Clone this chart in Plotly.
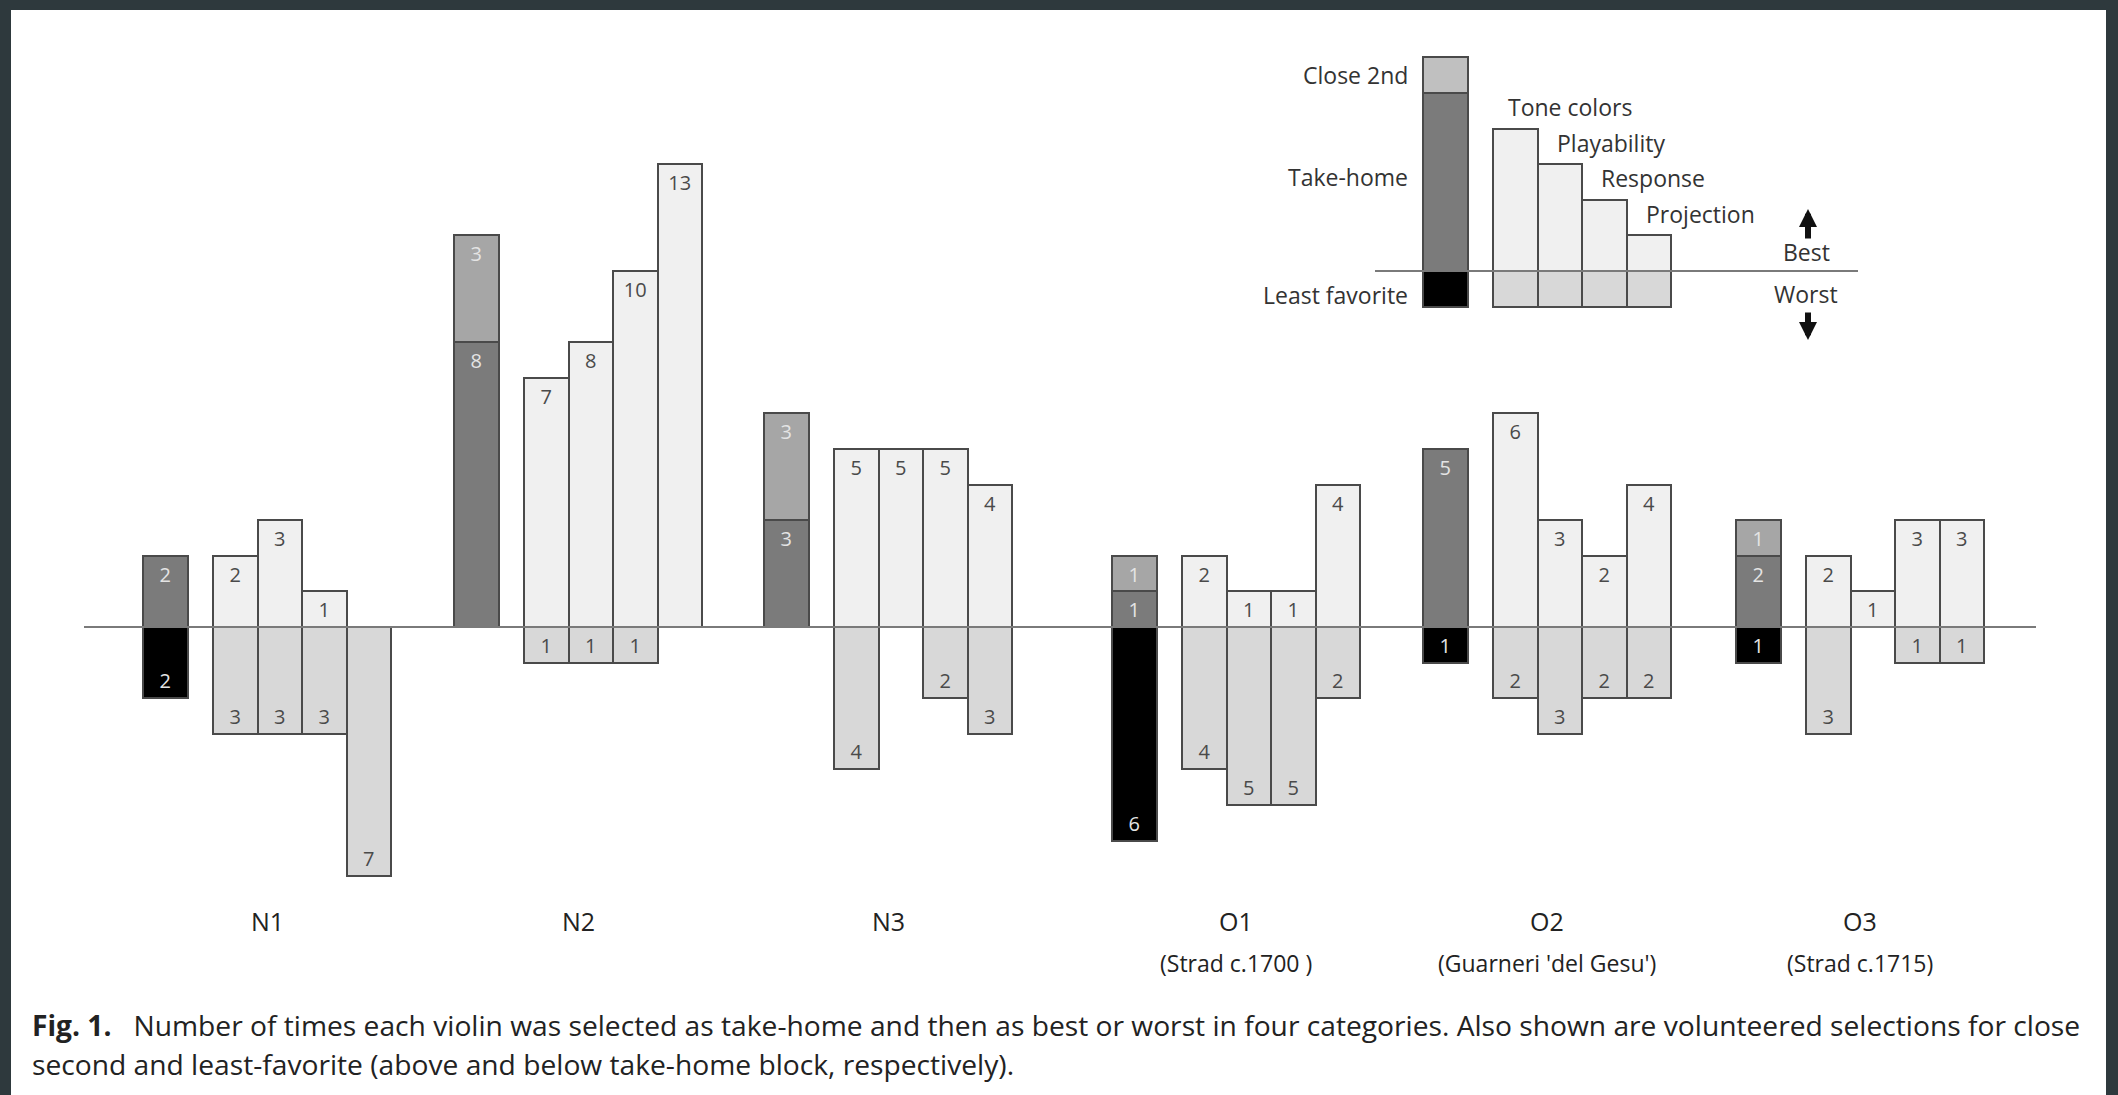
import plotly.graph_objects as go

# ---------------- data ----------------
violins = ["N1", "N2", "N3", "O1", "O2", "O3"]
subtitles = ["", "", "", "(Strad c.1700 )", "(Guarneri 'del Gesu')", "(Strad c.1715)"]
categories = ["Tone colors", "Playability", "Response", "Projection"]

take_home = [2, 8, 3, 1, 5, 2]
close_second = [0, 3, 3, 1, 0, 1]
least_favorite = [2, 0, 0, 6, 1, 1]

best_tone = [2, 7, 5, 2, 6, 2]
best_play = [3, 8, 5, 1, 3, 1]
best_resp = [1, 10, 5, 1, 2, 3]
best_proj = [0, 13, 4, 4, 4, 3]

worst_tone = [3, 1, 4, 4, 2, 3]
worst_play = [3, 1, 0, 5, 3, 0]
worst_resp = [3, 1, 2, 5, 2, 1]
worst_proj = [7, 0, 3, 2, 2, 1]

# schematic key (legend) values
key_close = 1
key_take = 5
key_least = 1
key_best = [4, 3, 2, 1]
key_worst = [1, 1, 1, 1]

caption_1 = ("Number of times each violin was selected as take-home and then as best or worst in four "
             "categories. Also shown are volunteered selections for close")
caption_2 = "second and least-favorite (above and below take-home block, respectively)."

# ---------------- layout constants ----------------
W, H = 2118, 1095
BASE_PX = 627.0
UNIT = 35.6
BW = 44.5
CAT_OFF = 70.0
GROUP_LEFT = [143, 454, 764, 1112, 1423, 1736]
KEY_LEFT = 1423
KEY_BASE = 10
FONT = "Open Sans"

C_TAKE = "#7b7b7b"
C_CLOSE = "#a6a6a6"
C_CLOSE_KEY = "#c0c0c0"
C_LEAST = "#000000"
C_BEST = "#f0f0f0"
C_WORST = "#d8d8d8"
C_EDGE = "#4a4a4a"
TXT_DARK = "#4a4a4a"
TXT_LIGHT = "#e4e4e4"


def ypx(p):
    return (BASE_PX - p) / UNIT


TOP_OFF = 21 / UNIT
BOT_OFF = 15 / UNIT

best = [best_tone, best_play, best_resp, best_proj]
worst = [worst_tone, worst_play, worst_resp, worst_proj]

fig = go.Figure()


def add_bars(xs, ys, bases, color):
    fig.add_trace(go.Bar(x=xs, y=ys, base=bases, width=BW,
                         marker=dict(color=color, line=dict(color=C_EDGE, width=2)),
                         hoverinfo="skip", showlegend=False))


light_x, light_y, light_t = [], [], []
dark_x, dark_y, dark_t = [], [], []

th_x = [g + BW / 2 for g in GROUP_LEFT]

# take-home stacks
xs, ys = [], []
for x, v in zip(th_x, take_home):
    if v:
        xs.append(x); ys.append(v)
        light_x.append(x); light_y.append(v - TOP_OFF); light_t.append(str(v))
add_bars(xs, ys, [0] * len(xs), C_TAKE)

xs, ys, bs = [], [], []
for x, v, b in zip(th_x, close_second, take_home):
    if v:
        xs.append(x); ys.append(v); bs.append(b)
        light_x.append(x); light_y.append(b + v - TOP_OFF); light_t.append(str(v))
add_bars(xs, ys, bs, C_CLOSE)

xs, ys = [], []
for x, v in zip(th_x, least_favorite):
    if v:
        xs.append(x); ys.append(-v)
        light_x.append(x); light_y.append(-v + BOT_OFF); light_t.append(str(v))
add_bars(xs, ys, [0] * len(xs), C_LEAST)

# category bars
for k in range(4):
    cx = [g + CAT_OFF + BW / 2 + k * BW for g in GROUP_LEFT]
    xs, ys = [], []
    for x, v in zip(cx, best[k]):
        if v:
            xs.append(x); ys.append(v)
            dark_x.append(x); dark_y.append(v - TOP_OFF); dark_t.append(str(v))
    add_bars(xs, ys, [0] * len(xs), C_BEST)
    xs, ys = [], []
    for x, v in zip(cx, worst[k]):
        if v:
            xs.append(x); ys.append(-v)
            dark_x.append(x); dark_y.append(-v + BOT_OFF); dark_t.append(str(v))
    add_bars(xs, ys, [0] * len(xs), C_WORST)

# key (schematic legend)
kx = KEY_LEFT + BW / 2
add_bars([kx], [key_take], [KEY_BASE], C_TAKE)
add_bars([kx], [key_close], [KEY_BASE + key_take], C_CLOSE_KEY)
add_bars([kx], [-key_least], [KEY_BASE], C_LEAST)
kcx = [KEY_LEFT + CAT_OFF + BW / 2 + k * BW for k in range(4)]
add_bars(kcx, key_best, [KEY_BASE] * 4, C_BEST)
add_bars(kcx, [-v for v in key_worst], [KEY_BASE] * 4, C_WORST)

fig.add_trace(go.Scatter(x=light_x, y=light_y, text=light_t, mode="text",
                         textfont=dict(family=FONT, size=20, color=TXT_LIGHT),
                         hoverinfo="skip", showlegend=False))
fig.add_trace(go.Scatter(x=dark_x, y=dark_y, text=dark_t, mode="text",
                         textfont=dict(family=FONT, size=20, color=TXT_DARK),
                         hoverinfo="skip", showlegend=False))

shapes = [
    dict(type="rect", xref="paper", yref="paper", x0=11 / W, x1=2106 / W, y0=0, y1=1 - 10 / H,
         fillcolor="white", line=dict(width=0), layer="below"),
    dict(type="line", xref="x", yref="y", x0=84, x1=2036, y0=0, y1=0,
         line=dict(color="#7a7a7a", width=2), layer="above"),
    dict(type="line", xref="x", yref="y", x0=1375, x1=1858, y0=KEY_BASE, y1=KEY_BASE,
         line=dict(color="#7a7a7a", width=2), layer="above"),
]

ann = []
# violin labels
for g, name, sub in zip(GROUP_LEFT, violins, subtitles):
    cxg = g + (CAT_OFF + 4 * BW) / 2
    ann.append(dict(x=cxg, y=ypx(921), text=name, showarrow=False,
                    font=dict(family=FONT, size=25, color="#222")))
    if sub:
        ann.append(dict(x=cxg, y=ypx(963), text=sub, showarrow=False,
                        font=dict(family=FONT, size=23, color="#222")))

# key labels
kf = dict(family=FONT, size=23, color="#333")
ann.append(dict(x=1410, y=KEY_BASE + key_take + key_close / 2, text="Close 2nd", showarrow=False,
                xanchor="right", font=kf))
ann.append(dict(x=1410, y=ypx(177), text="Take-home", showarrow=False, xanchor="right", font=kf))
ann.append(dict(x=1410, y=ypx(295), text="Least favorite", showarrow=False, xanchor="right", font=kf))
for k, (cat, v) in enumerate(zip(categories, key_best)):
    ann.append(dict(x=kcx[k] - BW / 2 + 13 + (4 if k else 0), y=KEY_BASE + v + 0.6, text=cat,
                    showarrow=False, xanchor="left", font=kf))
ann.append(dict(x=1806, y=ypx(252), text="Best", showarrow=False, font=kf))
ann.append(dict(x=1806, y=ypx(294), text="Worst", showarrow=False, font=kf))
ann.append(dict(x=1808, y=ypx(209), ax=1808, ay=ypx(240), axref="x", ayref="y", text="",
                showarrow=True, arrowhead=2, arrowwidth=6, arrowsize=0.6, arrowcolor="#111"))
ann.append(dict(x=1808, y=ypx(340), ax=1808, ay=ypx(311), axref="x", ayref="y", text="",
                showarrow=True, arrowhead=2, arrowwidth=6, arrowsize=0.6, arrowcolor="#111"))

# caption
cf = dict(family=FONT, size=28.2, color="#222")
ann.append(dict(xref="paper", yref="paper", x=30 / W, y=1 - 1025 / H, xanchor="left", yanchor="middle",
                text="<b>Fig. 1.</b>\u00a0\u00a0\u00a0" + caption_1, showarrow=False, font=cf))
ann.append(dict(xref="paper", yref="paper", x=30 / W, y=1 - 1064 / H, xanchor="left", yanchor="middle",
                text=caption_2, showarrow=False, font=cf))

fig.update_layout(
    width=W, height=H, margin=dict(l=0, r=0, t=0, b=0),
    paper_bgcolor="#2e393d", plot_bgcolor="rgba(0,0,0,0)",
    barmode="overlay", bargap=0,
    xaxis=dict(range=[0, W], visible=False, fixedrange=True),
    yaxis=dict(range=[ypx(H), ypx(0)], visible=False, fixedrange=True),
    shapes=shapes, annotations=ann, showlegend=False,
)

fig.write_html("out.html", config={"displayModeBar": False},
               post_script="document.body.style.margin='0';document.body.style.overflow='hidden';")
